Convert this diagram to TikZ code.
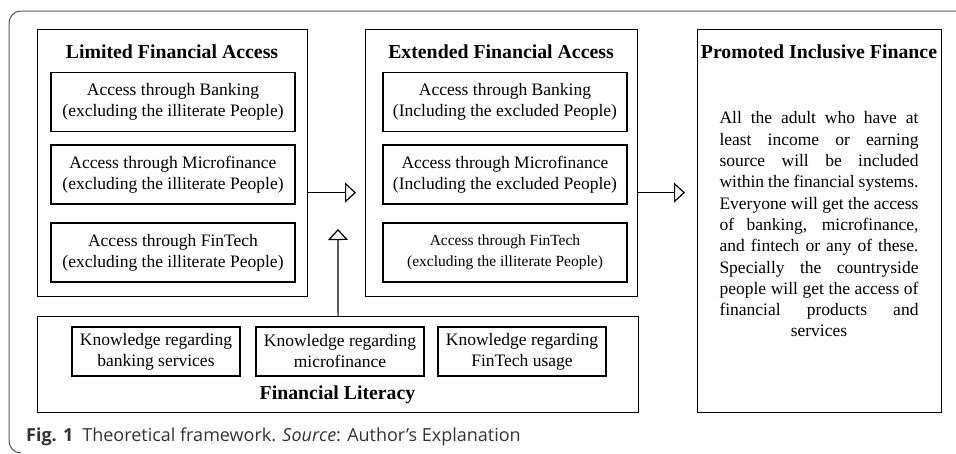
\documentclass[tikz,border=0pt]{standalone}
\usepackage{fontspec}
\setmainfont{Liberation Serif}
\newfontfamily\capfont{Open Sans}
\usetikzlibrary{arrows.meta}
\definecolor{framegray}{HTML}{5A5A5A}
\definecolor{capgray}{HTML}{333333}
\tikzset{
	bigbox/.style={draw, line width=1.2pt, anchor=north west, inner sep=0pt},
	inbox/.style={draw, line width=1.2pt, minimum width=244pt, minimum height=59pt, inner sep=0pt, align=center, font=\fontsize{17.5}{21}\selectfont},
	knowbox/.style={inbox, minimum width=168pt, minimum height=49pt},
	title/.style={font=\fontsize{19.8}{22}\selectfont\bfseries, inner sep=0pt},
	arr/.style={line width=1.2pt, -{Triangle[open, length=11pt, width=20pt]}}
}
\begin{document}
\begin{tikzpicture}[x=1pt,y=-1pt]
\useasboundingbox (0,0) rectangle (956,453);
\draw[framegray, line width=1pt, rounded corners=12pt] (956,11) -- (9,11) -- (9,453) -- (21,453);
\node[bigbox, minimum width=270pt, minimum height=267pt] (limited) at (37,29) {};
\node[bigbox, minimum width=272pt, minimum height=267pt] (extended) at (365,29) {};
\node[bigbox, minimum width=244pt, minimum height=383pt] (promoted) at (697,29) {};
\node[bigbox, minimum width=601pt, minimum height=96pt] (literacy) at (37,316) {};
\node[title] (limtitle) at (172,52) {Limited Financial Access};
\node[title] (exttitle) at (501,52) {Extended Financial Access};
\node[title] (protitle) at (819,52) {Promoted Inclusive Finance};
\node[title] (littitle) at (337.5,395) {Financial Literacy};
\foreach \n/\y/\t in {bank/102/Banking, micro/174.5/Microfinance, fin/252.5/FinTech}
	\node[inbox] (l\n) at (173,\y) {Access through \t\\(excluding the illiterate People)};
\foreach \n/\y/\t in {bank/102/Banking, micro/174.5/Microfinance}
	\node[inbox] (e\n) at (505,\y) {Access through \t\\(Including the excluded People)};
\node[inbox, font=\fontsize{15.5}{21}\selectfont] (efin) at (505,252.5) {Access through FinTech\\(excluding the illiterate People)};
\foreach \n/\x/\t in {bank/156/banking services, micro/340/microfinance, fin/522/FinTech usage}
	\node[knowbox] (k\n) at (\x,351.5) {Knowledge regarding\\\t};
\node[text width=199pt, align=justify, inner sep=0pt, font=\fontsize{17.5}{21.3}\selectfont] (protext) at (819,224.5) {{\parfillskip=0pt
All the adult who have at\linebreak least income or earning\linebreak source will be included\linebreak within the financial systems.\linebreak Everyone will get the access\linebreak of banking, microfinance,\linebreak and fintech or any of these.\linebreak Specially the countryside\linebreak people will get the access of\linebreak financial products and\par}\centering services\par};
\coordinate (uptip) at (338,229);
\draw[arr, shorten >=9pt] ([yshift=-29.5pt]limited.east) -- ([yshift=-29.5pt]limited.east -| extended.west);
\draw[arr, shorten >=12pt] ([yshift=-29.5pt]extended.east) -- ([yshift=-29.5pt]extended.east -| promoted.west);
\draw[arr] (literacy.north) -- (uptip);
\node[anchor=west, inner sep=0pt, text=capgray, font=\capfont\fontsize{18}{20}\selectfont] (caption) at (26,437) {\textbf{Fig. 1}\hspace{9pt}Theoretical framework. \textit{Source}: Author’s Explanation};
\end{tikzpicture}
\end{document}
